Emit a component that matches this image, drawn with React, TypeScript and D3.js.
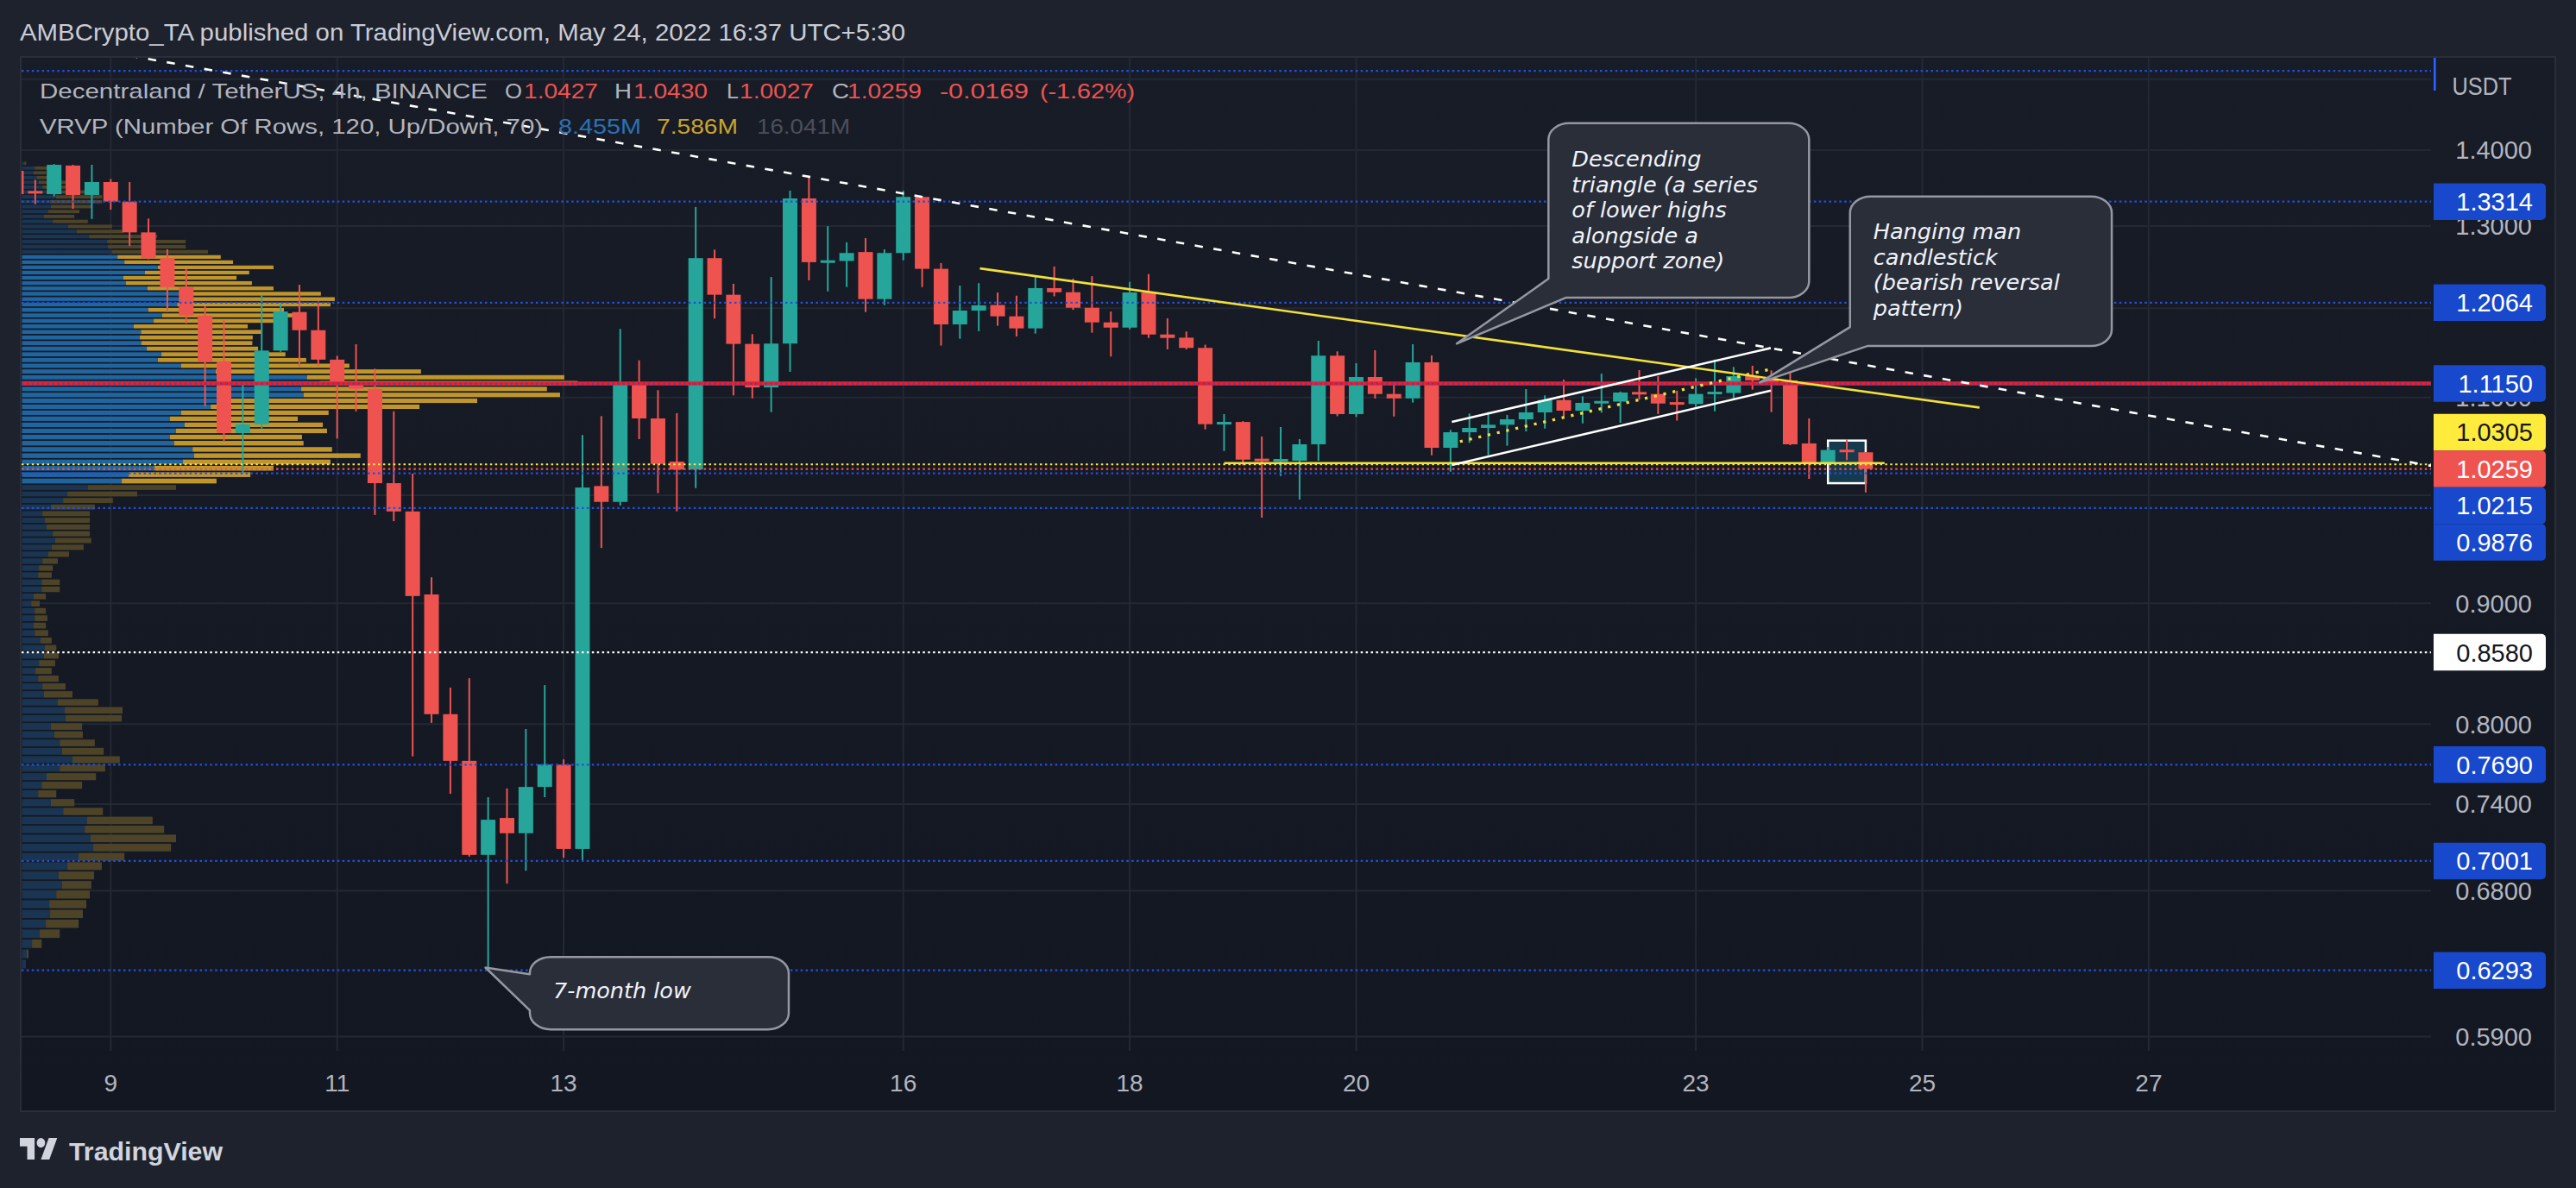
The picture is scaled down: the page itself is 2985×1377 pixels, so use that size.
import React from 'react';
import * as d3 from 'd3';

const W = 2985;
const H = 1377;

// ---------------- DATA ----------------
// 4h candles, MANA/USDT Binance, first bar 2022-05-08 00:00 UTC
const firstBarUtc = Date.UTC(2022, 4, 8, 0, 0);
const barHours = 4;

const opens = [1.372,1.345,1.341,1.379,1.340,1.357,1.3314,1.292,1.260,1.225,1.1914,1.139,1.0626,1.0716,1.1514,1.1955,1.1745,1.1413,1.1145,1.1092,1.0118,0.9843,0.9078,0.8078,0.7719,0.7043,0.7301,0.7193,0.7525,0.7690,0.7084,1.009,0.9935,1.1146,1.0777,1.0333,1.0253,1.260,1.2158,1.1589,1.1108,1.1593,1.3355,1.255,1.2565,1.2675,1.2107,1.2663,1.3374,1.2469,1.1812,1.1972,1.2037,1.1905,1.1766,1.2237,1.2188,1.2005,1.1835,1.1775,1.2185,1.1696,1.166,1.1544,1.0717,1.074,1.0359,1.034,1.0342,1.0509,1.1457,1.0823,1.1221,1.1037,1.099,1.1383,1.0473,1.0633,1.0678,1.0711,1.0768,1.0841,1.0972,1.0859,1.0942,1.0955,1.1053,1.1037,1.0942,1.093,1.1037,1.1048,1.1231,1.119,1.1184,1.0518,1.0319,1.0445,1.0427];
const highs = [1.376,1.360,1.381,1.380,1.380,1.361,1.357,1.3095,1.2709,1.2467,1.2021,1.1864,1.1139,1.2157,1.2048,1.2277,1.2079,1.1455,1.1585,1.1312,1.0852,1.0212,0.9231,0.8290,0.8366,0.7450,0.7514,0.7962,0.8310,0.7730,1.0605,1.0801,1.176,1.1405,1.1078,1.0832,1.3243,1.2704,1.2288,1.170,1.2371,1.3457,1.3639,1.2998,1.2795,1.2848,1.2708,1.3457,1.3384,1.2539,1.2267,1.2296,1.2185,1.2147,1.2392,1.2497,1.235,1.238,1.1961,1.2312,1.2406,1.1882,1.173,1.158,1.0823,1.0749,1.0589,1.0687,1.0562,1.1625,1.1505,1.1373,1.1518,1.114,1.1586,1.146,1.0657,1.0829,1.0844,1.0814,1.109,1.1022,1.1193,1.1012,1.1259,1.1063,1.1297,1.1231,1.1073,1.1208,1.1414,1.1332,1.1345,1.1294,1.1271,1.0777,1.0482,1.0559,1.0430];
const lows = [1.338,1.328,1.338,1.322,1.309,1.321,1.275,1.2585,1.1953,1.1821,1.0907,1.0532,1.0218,1.0671,1.150,1.1334,1.1341,1.0567,1.0852,0.981,0.975,0.7752,0.8010,0.7475,0.7031,0.6293,0.6848,0.6935,0.7450,0.7023,0.7004,0.9499,0.990,1.0562,1.002,0.9844,1.007,1.188,1.1022,1.099,1.0844,1.1278,1.233,1.2198,1.225,1.1955,1.2036,1.2574,1.225,1.157,1.1647,1.1733,1.1796,1.1674,1.1706,1.214,1.198,1.1716,1.1447,1.1755,1.1657,1.1527,1.1527,1.0663,1.0441,1.0296,0.9784,1.0189,0.9958,1.0342,1.080,1.0793,1.0988,1.0798,1.0945,1.0397,1.0232,1.0524,1.0397,1.0494,1.0642,1.0671,1.0798,1.0725,1.0838,1.0732,1.0977,1.0823,1.0754,1.0898,1.0852,1.0981,1.1084,1.0844,1.0500,1.0161,1.0307,1.0348,1.0027];
const closes = [1.341,1.342,1.380,1.340,1.357,1.3314,1.292,1.2598,1.2249,1.1914,1.1389,1.0626,1.0716,1.1514,1.1961,1.1745,1.1413,1.1145,1.1092,1.0118,0.9843,0.9064,0.8078,0.7719,0.7043,0.7288,0.7193,0.7525,0.7691,0.7084,1.0075,0.9935,1.1146,1.0777,1.031,1.0253,1.260,1.2158,1.1589,1.1108,1.1593,1.3355,1.255,1.2565,1.2663,1.2107,1.2663,1.3374,1.2469,1.1812,1.1972,1.2033,1.1905,1.1766,1.2237,1.2188,1.2005,1.1835,1.1775,1.2185,1.1696,1.1657,1.1544,1.0717,1.0738,1.0353,1.034,1.0353,1.0509,1.1457,1.0823,1.1221,1.1037,1.099,1.1383,1.0473,1.0633,1.0678,1.0711,1.0768,1.0841,1.0972,1.0859,1.0942,1.0955,1.1053,1.1037,1.0935,1.093,1.1037,1.1058,1.1231,1.1184,1.1171,1.0509,1.0313,1.045,1.0436,1.0259];

const dayTicks = [9, 11, 13, 16, 18, 20, 23, 25, 27];
const priceTicks = [1.4, 1.3, 1.2, 1.1, 1.0, 0.9, 0.8, 0.74, 0.68, 0.59];
const gridOnlyTicks = [1.5];

const levelPrices = [1.5124, 1.3314, 1.2064, 1.115, 1.0305, 1.0259, 1.0215, 0.9876, 0.858, 0.769, 0.7001, 0.6293];
const levelKinds = ['blue', 'blue', 'blue', 'blue', 'yellow', 'last', 'blue', 'blue', 'white', 'blue', 'blue', 'blue'];
const levelHasLabel = [false, true, true, true, true, true, true, true, true, true, true, true];
const redSupport = 1.115;

// Visible range volume profile: 119 rows, listed from top (high price) to bottom
const profileLow = 0.63;
const profileHigh = 1.38517;
const volUp = [6,33,30,38,43,53,63,88,73,75,68,57,80,120,142,174,221,223,233,248,266,353,319,263,270,326,413,413,403,328,364,342,290,309,306,310,324,362,353,413,503,740,773,725,731,543,490,413,384,422,400,384,395,443,447,418,344,277,259,171,118,107,75,53,59,64,80,86,77,68,53,44,42,51,51,30,24,33,33,30,33,48,59,57,44,35,42,53,57,93,111,113,75,84,98,104,131,98,64,51,42,75,107,169,163,178,185,147,118,95,104,89,71,73,62,46,26,12,10];
const volDown = [5,35,33,35,80,90,100,120,135,106,81,79,91,114,121,177,204,202,250,268,282,300,271,294,327,327,363,399,398,352,339,321,296,313,293,288,289,322,385,437,533,668,670,638,666,639,542,383,332,359,392,343,336,362,432,383,309,316,246,229,181,129,114,123,117,112,96,94,83,54,40,36,35,47,47,32,22,29,33,32,35,29,30,38,42,42,53,60,74,105,150,146,81,74,91,108,123,118,128,105,47,61,103,170,206,222,202,119,89,92,76,87,96,85,85,52,25,5,0];
const valueAreaRows = [19, 58];

// Drawings: [bar number from first bar, price]
const dashedTrend = [[5, 1.540], [130, 1.0222]];
const triangleTop = [[51.06, 1.2474], [104.03, 1.0892]];
const triangleBase = [[64, 1.0318], [99, 1.0318]];
const channelUpper = [[76.07, 1.0740], [92.97, 1.1543]];
const channelLower = [[76.07, 1.0298], [92.97, 1.1073]];
const channelMid = [[76.5, 1.0537], [92.97, 1.1308]];
const hangingBox = [[96, 1.0547], [98, 1.0118]];

const callouts = [
  { box: [[81.19, 1.4371], [95.0, 1.2123]], tip: [76.33, 1.1592], side: 'bl',
    lines: ['Descending', 'triangle (a series', 'of lower highs', 'alongside a', 'support zone)'] },
  { box: [[97.17, 1.338], [111.04, 1.1565]], tip: [92.39, 1.1161], side: 'bl',
    lines: ['Hanging man', 'candlestick', '(bearish reversal', 'pattern)'] },
  { box: [[27.21, 0.6376], [40.93, 0.5941]], tip: [24.86, 0.631], side: 'l',
    lines: ['7-month low'] },
];

const headerText = 'AMBCrypto_TA published on TradingView.com, May 24, 2022 16:37 UTC+5:30';
const symbolText = 'Decentraland / TetherUS, 4h, BINANCE';
const ohlcLetters = ['O', 'H', 'L', 'C'];
const ohlcValues = ['1.0427', '1.0430', '1.0027', '1.0259'];
const changeTexts = ['-0.0169', '(-1.62%)'];
const vrvpText = 'VRVP (Number Of Rows, 120, Up/Down, 70)';
const vrvpValues = ['8.455M', '7.586M', '16.041M'];

// ---------------- STYLE ----------------
const FONT = "'Liberation Sans', Arial, sans-serif";
const FONT_DV = "'DejaVu Sans', sans-serif";
const C = {
  outer: '#1e222d',
  border: '#2a2e39',
  grid: '#242833',
  axisText: '#b2b5be',
  up: '#26a69a',
  down: '#ef5350',
};
const levelStyle: Record<string, any> = {
  blue: { color: '#2150e0', badge: '#1848cc', text: '#ffffff' },
  yellow: { color: '#ffeb3b', badge: '#ffeb3b', text: '#131722' },
  last: { color: '#ef5350', badge: '#ef5350', text: '#ffffff' },
  white: { color: '#ffffff', badge: '#ffffff', text: '#131722' },
};

const plot = { left: 25, right: 2817, top: 67, bottom: 1218 };

export default function App() {
  const y = d3.scaleLog().domain([0.59, 1.4]).range([1201.4, 173.9]);
  const x = d3.scaleUtc()
    .domain([new Date(Date.UTC(2022, 4, 8, 20)), new Date(Date.UTC(2022, 4, 22, 20))])
    .range([128.3, 1965.1]);
  const xk = (k: number) => x(new Date(firstBarUtc + k * barHours * 3600e3));
  const pt = (p: number[]) => [xk(p[0]), y(p[1])];

  const bodyW = 17;

  // profile
  const step = (profileHigh - profileLow) / volUp.length;
  const totals = volUp.map((v, i) => v + volDown[i]);
  const xVol = d3.scaleLinear().domain([0, d3.max(totals) as number]).range([0, 644]);

  // labels stacking
  const levels = levelPrices.map((p, i) => ({ price: p, kind: levelKinds[i], label: levelHasLabel[i], ty: y(p), ly: y(p) }));
  const labelled = levels.filter(l => l.label);
  const anchor = labelled.find(l => l.kind === 'last')!;
  const hB = 42.5;
  let prev = anchor.ty;
  labelled.filter(l => l.ty < anchor.ty).sort((a, b) => b.ty - a.ty).forEach(l => { l.ly = Math.min(l.ty, prev - hB); prev = l.ly; });
  prev = anchor.ty;
  labelled.filter(l => l.ty > anchor.ty).sort((a, b) => a.ty - b.ty).forEach(l => { l.ly = Math.max(l.ty, prev + hB); prev = l.ly; });

  // tick labels hidden when a price badge covers them (as TradingView does)
  const visibleTicks = priceTicks.filter(p => !labelled.some(l => Math.abs(l.ly - y(p)) < 14));

  const badgePath = (cy: number) => {
    const x0 = 2820, x1 = 2950, y0 = cy - hB / 2, y1 = cy + hB / 2, r = 5;
    return `M${x0},${y0} H${x1 - r} A${r},${r} 0 0 1 ${x1},${y0 + r} V${y1 - r} A${r},${r} 0 0 1 ${x1 - r},${y1} H${x0} Z`;
  };

  const calloutPath = (x0: number, y0: number, x1: number, y1: number, tip: number[], side: string) => {
    const rx = 24, ry = 19;
    if (side === 'bl') {
      return `M${x0 + rx},${y0} H${x1 - rx} A${rx},${ry} 0 0 1 ${x1},${y0 + ry} V${y1 - ry} A${rx},${ry} 0 0 1 ${x1 - rx},${y1} H${x0 + 20} L${tip[0]},${tip[1]} L${x0},${y1 - 22} V${y0 + ry} A${rx},${ry} 0 0 1 ${x0 + rx},${y0} Z`;
    }
    return `M${x0 + rx},${y0} H${x1 - rx} A${rx},${ry} 0 0 1 ${x1},${y0 + ry} V${y1 - ry} A${rx},${ry} 0 0 1 ${x1 - rx},${y1} H${x0 + rx} A${rx},${ry} 0 0 1 ${x0},${y1 - ry} V${y0 + 62} L${tip[0]},${tip[1]} L${x0},${y0 + 20} A${rx},${ry} 0 0 1 ${x0 + rx},${y0} Z`;
  };

  const seg = (pts: number[][]) => { const a = pt(pts[0]); const b = pt(pts[1]); return { x1: a[0], y1: a[1], x2: b[0], y2: b[1] }; };

  const hb0 = pt(hangingBox[0]);
  const hb1 = pt(hangingBox[1]);

  return (
    <div style={{ position: 'fixed', left: 0, top: 0, width: W, height: H, background: C.outer }}>
      <svg width={W} height={H} style={{ display: 'block' }}>
        <defs>
          <linearGradient id="paneBg" x1="0" y1="0" x2="0" y2="1">
            <stop offset="0" stopColor="#181c27" />
            <stop offset="1" stopColor="#131722" />
          </linearGradient>
          <clipPath id="plotClip">
            <rect x={plot.left} y={plot.top} width={plot.right - plot.left} height={plot.bottom - plot.top} />
          </clipPath>
        </defs>
        <rect x={0} y={0} width={W} height={H} fill={C.outer} />
        {/* header */}
        <text x={23} y={47} fill="#c9ccd4" fontFamily={FONT} fontSize={28} textLength={1026} lengthAdjust="spacingAndGlyphs">{headerText}</text>

        {/* pane */}
        <rect x={24} y={66} width={2937} height={1222} fill="url(#paneBg)" stroke={C.border} strokeWidth={2} />

        {/* grid */}
        <g>
          {[...gridOnlyTicks, ...priceTicks].map(p => (
            <line key={'hg' + p} x1={plot.left} x2={plot.right} y1={y(p)} y2={y(p)} stroke={C.grid} strokeWidth={2} />
          ))}
          {dayTicks.map(d => {
            const xx = x(new Date(Date.UTC(2022, 4, d - 1, 20)));
            return <line key={'vg' + d} x1={xx} x2={xx} y1={plot.top} y2={plot.bottom} stroke={C.grid} strokeWidth={2} />;
          })}
        </g>

        <g clipPath="url(#plotClip)">
          {/* volume profile */}
          {volUp.map((u, r) => {
            const hi = profileHigh - r * step;
            const lo = profileHigh - (r + 1) * step;
            const yt = y(hi) + 0.9;
            const yb = y(lo) - 0.9;
            const inVA = r >= valueAreaRows[0] && r <= valueAreaRows[1];
            const wu = xVol(u);
            const wd = xVol(volDown[r]);
            return (
              <g key={'vp' + r}>
                <rect x={plot.left + 0.5} y={yt} width={wu} height={Math.max(0.5, yb - yt)} fill={inVA ? '#1f65a0' : '#1a3552'} />
                <rect x={plot.left + 0.5 + wu} y={yt} width={wd} height={Math.max(0.5, yb - yt)} fill={inVA ? '#c0962b' : '#4d4428'} />
              </g>
            );
          })}

          {/* hanging man highlight box */}
          <rect x={hb0[0]} y={hb0[1]} width={hb1[0] - hb0[0]} height={hb1[1] - hb0[1]} fill="rgba(24,86,112,0.55)" stroke="#ffffff" strokeWidth={2.5} />

          {/* candles */}
          {opens.map((o, k) => {
            const c = closes[k];
            const cx = xk(k);
            const col = c >= o ? C.up : C.down;
            const top = y(Math.max(o, c));
            const bot = y(Math.min(o, c));
            const h = Math.max(bot - top, 3);
            return (
              <g key={'c' + k}>
                <line x1={cx} x2={cx} y1={y(highs[k])} y2={y(lows[k])} stroke={col} strokeWidth={2} />
                <rect x={cx - bodyW / 2} y={h === 3 ? (top + bot) / 2 - 1.5 : top} width={bodyW} height={h} fill={col} />
              </g>
            );
          })}

          {/* red support / resistance */}
          <line x1={plot.left} x2={plot.right} y1={y(redSupport)} y2={y(redSupport)} stroke="#ff1a1a" strokeWidth={4.5} />

          {/* level lines */}
          {levels.map((l, i) => (
            <line key={'lv' + i} x1={plot.left} x2={plot.right} y1={l.ty} y2={l.ty}
              stroke={levelStyle[l.kind].color} strokeWidth={2.2} strokeDasharray="2.5 3.4" />
          ))}

          {/* trend lines */}
          <line {...seg(dashedTrend)} stroke="#ffffff" strokeWidth={2.6} strokeDasharray="9.5 12.5" />
          <line {...seg(triangleTop)} stroke="#f2e03a" strokeWidth={2.6} />
          <line {...seg(triangleBase)} stroke="#f2e03a" strokeWidth={2.6} />
          <line {...seg(channelUpper)} stroke="#ffffff" strokeWidth={2.6} />
          <line {...seg(channelLower)} stroke="#ffffff" strokeWidth={2.6} />
          <line {...seg(channelMid)} stroke="#f2e03a" strokeWidth={3.2} strokeDasharray="3.2 7.8" />

          {/* callouts */}
          {callouts.map((co, i) => {
            const a = pt(co.box[0]);
            const b = pt(co.box[1]);
            const t = pt(co.tip);
            return (
              <g key={'co' + i}>
                <path d={calloutPath(a[0], a[1], b[0], b[1], t, co.side)} fill="#2a2e39" stroke="#9598a1" strokeWidth={2.5} strokeLinejoin="round" />
                {co.lines.map((ln, j) => (
                  <text key={j} x={a[0] + 27} y={a[1] + (co.lines.length === 1 ? 47.5 : (i === 0 ? 50.6 : 49.6)) + j * 29.5}
                    fill="#f0f3fa" fontFamily={FONT_DV} fontStyle="italic" fontSize={25.5}>{ln}</text>
                ))}
              </g>
            );
          })}
        </g>

        {/* legend */}
        <g fontFamily={FONT} fontSize={24}>
          <text x={46} y={114} fill="#b2b5be" textLength={519} lengthAdjust="spacingAndGlyphs">{symbolText}</text>
          {ohlcLetters.map((L, i) => {
            const lx = [585, 712, 842, 964][i];
            const vx = [607, 734, 857, 982][i];
            return (
              <g key={'ohlc' + i}>
                <text x={lx} y={114} fill="#b2b5be" textLength={L === 'L' ? 14 : 20} lengthAdjust="spacingAndGlyphs">{L}</text>
                <text x={vx} y={114} fill="#ef5350" textLength={86} lengthAdjust="spacingAndGlyphs">{ohlcValues[i]}</text>
              </g>
            );
          })}
          <text x={1089} y={114} fill="#ef5350" textLength={103} lengthAdjust="spacingAndGlyphs">{changeTexts[0]}</text>
          <text x={1205} y={114} fill="#ef5350" textLength={110} lengthAdjust="spacingAndGlyphs">{changeTexts[1]}</text>
          <text x={46} y={155} fill="#b2b5be" textLength={583} lengthAdjust="spacingAndGlyphs">{vrvpText}</text>
          <text x={647} y={155} fill="#2a72b5" textLength={96} lengthAdjust="spacingAndGlyphs">{vrvpValues[0]}</text>
          <text x={761} y={155} fill="#c9a42c" textLength={94} lengthAdjust="spacingAndGlyphs">{vrvpValues[1]}</text>
          <text x={877} y={155} fill="#4b4f5a" textLength={108} lengthAdjust="spacingAndGlyphs">{vrvpValues[2]}</text>
        </g>

        {/* price axis */}
        <g fontFamily={FONT} fontSize={29}>
          <text x={2876} y={110} fill={C.axisText} textAnchor="middle" textLength={69} lengthAdjust="spacingAndGlyphs">USDT</text>
          {visibleTicks.map(p => (
            <text key={'pt' + p} x={2934} y={y(p) + 10.4} fill={C.axisText} textAnchor="end">{p.toFixed(4)}</text>
          ))}
          <rect x={2820} y={67} width={2.6} height={38} fill="#2962ff" />
          {labelled.map((l, i) => (
            <g key={'bd' + i}>
              <path d={badgePath(l.ly)} fill={levelStyle[l.kind].badge} />
              <text x={2935} y={l.ly + 10.4} fill={levelStyle[l.kind].text} textAnchor="end">{l.price.toFixed(4)}</text>
            </g>
          ))}
        </g>

        {/* time axis */}
        <g fontFamily={FONT} fontSize={28} fill={C.axisText}>
          {dayTicks.map(d => (
            <text key={'dt' + d} x={x(new Date(Date.UTC(2022, 4, d - 1, 20)))} y={1265} textAnchor="middle">{d}</text>
          ))}
        </g>

        {/* TradingView logo */}
        <g transform="translate(23,1313.5) scale(1.22,1.39)" fill="#d1d4dc">
          <path d="M14 22H7V11H0V4h14v18zM28 22h-8l7.5-18h8L28 22z" />
          <circle cx={20} cy={8} r={4} />
        </g>
        <text x={80} y={1345} fill="#d1d4dc" fontFamily={FONT} fontWeight="bold" fontSize={30} textLength={178} lengthAdjust="spacingAndGlyphs">TradingView</text>
      </svg>
    </div>
  );
}
